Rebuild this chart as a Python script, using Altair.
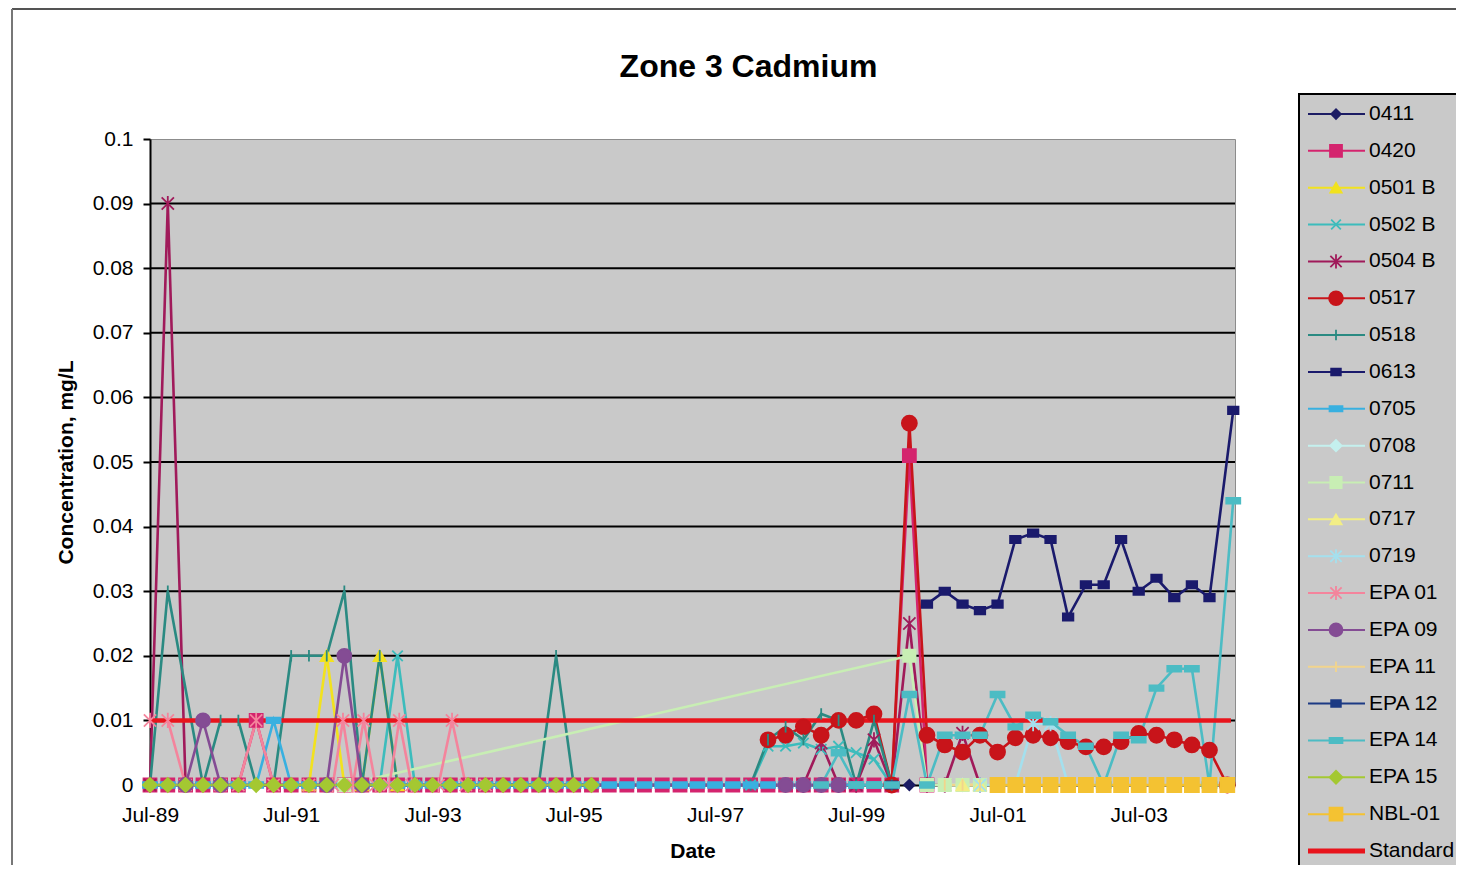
import altair as alt
import pandas as pd

FONT = "Liberation Sans"

# ---------------- data ----------------
sample_dates = [
    "1989-07-01", "1989-10-01", "1990-01-01", "1990-04-01", "1990-07-01", "1990-10-01",
    "1991-01-01", "1991-04-01", "1991-07-01", "1991-10-01", "1992-01-01", "1992-04-01",
    "1992-07-01", "1992-10-01", "1993-01-01", "1993-04-01", "1993-07-01", "1993-10-01",
    "1994-01-01", "1994-04-01", "1994-07-01", "1994-10-01", "1995-01-01", "1995-04-01",
    "1995-07-01", "1995-10-01", "1996-01-01", "1996-04-01", "1996-07-01", "1996-10-01",
    "1997-01-01", "1997-04-01", "1997-07-01", "1997-10-01", "1998-01-01", "1998-04-01",
    "1998-07-01", "1998-10-01", "1999-01-01", "1999-04-01", "1999-07-01", "1999-10-01",
    "2000-01-01", "2000-04-01", "2000-07-01", "2000-10-01", "2001-01-01", "2001-04-01",
    "2001-07-01", "2001-10-01", "2002-01-01", "2002-04-01", "2002-07-01", "2002-10-01",
    "2003-01-01", "2003-04-01", "2003-07-01", "2003-10-01", "2004-01-01", "2004-04-01",
    "2004-07-01", "2004-10-01",
]


def pick(idx):
    return [sample_dates[i] for i in idx]


dates_0411 = pick([43])
vals_0411 = [0.0]

dates_0420 = sample_dates[0:45]
vals_0420 = [0, 0, 0, 0, 0, 0, 0.01, 0, 0, 0,
             0, 0, 0, 0, 0, 0, 0, 0, 0, 0,
             0, 0, 0, 0, 0, 0, 0, 0, 0, 0,
             0, 0, 0, 0, 0, 0, 0, 0, 0, 0,
             0, 0, 0, 0.051, 0]

dates_0501b = sample_dates[9:15]
vals_0501b = [0, 0.02, 0, 0, 0.02, 0]

dates_0502b = pick([13, 14, 15, 34, 35, 36, 37, 38, 39, 40, 41, 42])
vals_0502b = [0, 0.02, 0, 0, 0.006, 0.006, 0.0065, 0.0055, 0.006, 0.005, 0.004, 0]

dates_0504b = pick([0, 1, 2, 37, 38, 39, 40, 41, 42, 43, 44, 45, 46, 47])
vals_0504b = [0, 0.09, 0, 0, 0.0065, 0, 0, 0.007, 0, 0.025, 0, 0, 0.008, 0]

dates_0517 = sample_dates[35:62]
vals_0517 = [0.007, 0.0077, 0.009, 0.0077, 0.010, 0.010, 0.011, 0, 0.056,
             0.0077, 0.0062, 0.0051, 0.0077, 0.0051, 0.0073, 0.0077, 0.0073, 0.0067,
             0.0059, 0.0059, 0.0067, 0.008, 0.0077, 0.007, 0.0062, 0.0054, 0]

dates_0518 = pick([0, 1, 3, 4, 5, 6, 7, 8, 9, 10, 11, 12, 13, 14, 15,
                   22, 23, 24, 34, 35, 36, 37, 38, 39, 40, 41, 42])
vals_0518 = [0, 0.03, 0, 0.01, 0.01, 0, 0, 0.02, 0.02, 0.02, 0.03, 0, 0.02, 0, 0,
             0, 0.02, 0, 0, 0.007, 0.009, 0.007, 0.011, 0.010, 0, 0.010, 0]

dates_0613 = sample_dates[44:61] + ["2004-11-01"]
vals_0613 = [0.028, 0.030, 0.028, 0.027, 0.028, 0.038, 0.039, 0.038, 0.026,
             0.031, 0.031, 0.038, 0.030, 0.032, 0.029, 0.031, 0.029, 0.058]

dates_0705 = sample_dates[0:43]
vals_0705 = [0, 0, 0, 0, 0, 0, 0, 0.01, 0, 0,
             0, 0, 0, 0, 0, 0, 0, 0, 0, 0,
             0, 0, 0, 0, 0, 0, 0, 0, 0, 0,
             0, 0, 0, 0, 0, 0, 0, 0, 0, 0,
             0, 0, 0]

dates_0708 = pick([45, 46])
vals_0708 = [0, 0]

dates_0711 = pick([11, 43, 44, 45, 46, 47])
vals_0711 = [0, 0.02, 0, 0, 0, 0]

dates_0717 = pick([46, 47])
vals_0717 = [0, 0]

dates_0719 = pick([47, 48, 49, 50, 51, 52])
vals_0719 = [0, 0, 0, 0.0095, 0.0095, 0]

dates_epa01 = ["1989-07-01", "1989-10-01", "1990-01-01", "1990-07-01", "1990-10-01",
               "1991-01-01", "1991-04-01", "1991-10-01", "1992-02-01", "1992-03-25",
               "1992-05-15", "1992-07-10", "1992-09-10", "1992-11-20", "1993-01-10",
               "1993-03-15", "1993-08-01", "1993-10-10", "1993-12-20", "1994-04-01"]
vals_epa01 = [0.01, 0.01, 0, 0, 0, 0.01, 0, 0, 0, 0.01,
              0, 0.01, 0, 0, 0.01, 0, 0, 0.01, 0, 0]

dates_epa09 = pick([2, 3, 4, 10, 11, 12, 36, 37, 38, 39])
vals_epa09 = [0, 0.01, 0, 0, 0.02, 0, 0, 0, 0, 0]

dates_epa11 = pick([45, 46, 47])
vals_epa11 = [0, 0, 0]

dates_epa12 = pick([42])
vals_epa12 = [0]

dates_epa14 = sample_dates[38:61] + ["2004-11-01"]
vals_epa14 = [0, 0.005, 0, 0, 0, 0.014, 0, 0.0077, 0.0077, 0.0077, 0.014, 0.009,
              0.0108, 0.0098, 0.0077, 0.006, 0, 0.0077, 0.007, 0.015, 0.018, 0.018,
              0, 0.044]

dates_epa15 = sample_dates[0:26]
vals_epa15 = [0, 0, 0, 0, 0, 0, 0, 0, 0, 0, 0, 0, 0,
              0, 0, 0, 0, 0, 0, 0, 0, 0, 0, 0, 0, 0]

dates_nbl01 = sample_dates[48:62]
vals_nbl01 = [0, 0, 0, 0, 0, 0, 0, 0, 0, 0, 0, 0, 0, 0]

dates_standard = ["1989-07-01", "2004-10-20"]
vals_standard = [0.01, 0.01]

series_names = ["0411", "0420", "0501 B", "0502 B", "0504 B", "0517", "0518", "0613",
                "0705", "0708", "0711", "0717", "0719", "EPA 01", "EPA 09", "EPA 11",
                "EPA 12", "EPA 14", "EPA 15", "NBL-01", "Standard"]

readings = [
    ("0411", dates_0411, vals_0411), ("0420", dates_0420, vals_0420),
    ("0501 B", dates_0501b, vals_0501b), ("0502 B", dates_0502b, vals_0502b),
    ("0504 B", dates_0504b, vals_0504b), ("0517", dates_0517, vals_0517),
    ("0518", dates_0518, vals_0518), ("0613", dates_0613, vals_0613),
    ("0705", dates_0705, vals_0705), ("0708", dates_0708, vals_0708),
    ("0711", dates_0711, vals_0711), ("0717", dates_0717, vals_0717),
    ("0719", dates_0719, vals_0719), ("EPA 01", dates_epa01, vals_epa01),
    ("EPA 09", dates_epa09, vals_epa09), ("EPA 11", dates_epa11, vals_epa11),
    ("EPA 12", dates_epa12, vals_epa12), ("EPA 14", dates_epa14, vals_epa14),
    ("EPA 15", dates_epa15, vals_epa15), ("NBL-01", dates_nbl01, vals_nbl01),
]

y_ticks = [0, 0.01, 0.02, 0.03, 0.04, 0.05, 0.06, 0.07, 0.08, 0.09, 0.1]
grid_levels = [0.01, 0.02, 0.03, 0.04, 0.05, 0.06, 0.07, 0.08, 0.09]
x_tick_years = [1989, 1991, 1993, 1995, 1997, 1999, 2001, 2003]

# ---------------- styles ----------------
X_PATH = "M-1,-1L1,1M-1,1L1,-1"
STAR_PATH = "M-1,-1L1,1M-1,1L1,-1M0,-1.25L0,1.25"
BAR_PATH = "M0,-1L0,1"
DASH_PATH = "M-1,-0.4L1,-0.4L1,0.4L-1,0.4Z"
BLOCK_PATH = "M-1,-0.7L1,-0.7L1,0.7L-1,0.7Z"

style = {
    "0411": ("#1c1c64", "diamond", 110),
    "0420": ("#d4246e", "square", 169),
    "0501 B": ("#f2e21e", "triangle-up", 150),
    "0502 B": ("#3cbcbc", X_PATH, 110),
    "0504 B": ("#a01a5a", STAR_PATH, 150),
    "0517": ("#c8141a", "circle", 225),
    "0518": ("#2a8a82", BAR_PATH, 130),
    "0613": ("#1a1a6c", BLOCK_PATH, 110),
    "0705": ("#38b0e0", DASH_PATH, 196),
    "0708": ("#c4f0ee", "diamond", 150),
    "0711": ("#c8eeb4", "square", 150),
    "0717": ("#f2ee86", "triangle-up", 150),
    "0719": ("#a4e0ee", STAR_PATH, 150),
    "EPA 01": ("#f4849c", STAR_PATH, 150),
    "EPA 09": ("#844c94", "circle", 196),
    "EPA 11": ("#f2d48c", BAR_PATH, 130),
    "EPA 12": ("#1c3a84", BLOCK_PATH, 110),
    "EPA 14": ("#4cbcc4", DASH_PATH, 196),
    "EPA 15": ("#a4c832", "diamond", 196),
    "NBL-01": ("#f4c232", "square", 196),
    "Standard": ("#e8141c", "circle", 0),
}

rows = []
for name, ds, vs in readings:
    col, shp, sz = style[name]
    for d, v in zip(ds, vs):
        rows.append({"series": name, "date": d, "value": v,
                     "color": col, "shape": shp, "size": sz})
df = pd.DataFrame(rows)

std_df = pd.DataFrame({"date": dates_standard, "value": vals_standard})
grid_df = pd.DataFrame({"value": grid_levels})

leg_df = pd.DataFrame({
    "name": series_names,
    "color": [style[n][0] for n in series_names],
    "shape": [style[n][1] for n in series_names],
    "size": [style[n][2] * 0.85 for n in series_names],
    "lw": [5 if n == "Standard" else 2 for n in series_names],
})

# ---------------- encodings ----------------
x_enc = alt.X(
    "date:T",
    scale=alt.Scale(type="utc", domain=[alt.DateTime(year=1989, month=7, date=1, utc=True),
                                        alt.DateTime(year=2004, month=11, date=10, utc=True)]),
    axis=alt.Axis(values=[alt.DateTime(year=y, month=7, date=1, utc=True) for y in x_tick_years],
                  format="%b-%y", title="Date", tickSize=5, labelPadding=14,
                  titlePadding=15, grid=False, labelFlush=False, labelOverlap=False),
)
y_enc = alt.Y(
    "value:Q",
    scale=alt.Scale(domain=[0, 0.1], nice=False),
    axis=alt.Axis(values=y_ticks, format="~g", title="Concentration, mg/L",
                  tickSize=7, labelPadding=10, titlePadding=16, grid=False,
                  labelFlush=False),
)

grid = alt.Chart(grid_df).mark_rule(color="black", strokeWidth=2).encode(y=y_enc)

lines = alt.Chart(df).mark_line(strokeWidth=2.6).encode(
    x=x_enc, y=y_enc, detail="series:N",
    stroke=alt.Stroke("color:N", scale=None),
)

standard = alt.Chart(std_df).mark_line(strokeWidth=4.5, color="#e8141c").encode(x=x_enc, y=y_enc)

points = alt.Chart(df).mark_point(opacity=1, fillOpacity=1, strokeWidth=1.8).encode(
    x=x_enc, y=y_enc,
    shape=alt.Shape("shape:N", scale=None),
    fill=alt.Fill("color:N", scale=None),
    stroke=alt.Stroke("color:N", scale=None),
    size=alt.Size("size:Q", scale=None),
)

main = alt.layer(grid, lines, standard, points)

leg_y = alt.Y("name:N", scale=alt.Scale(domain=series_names, range=[-43.4, 730.4],
                                        paddingOuter=0, padding=0),
              axis=None)

# scanned page frame (top and left edge lines)
frame_top = alt.Chart(leg_df).mark_rule(color="#555555", strokeWidth=1.5).encode(
    x=alt.value(-138), x2=alt.value(1320), y=alt.value(-130)
)
frame_left = alt.Chart(leg_df).mark_rule(color="#777777", strokeWidth=1.5).encode(
    x=alt.value(-138), y=alt.value(-130), y2=alt.value(740)
)

box = alt.Chart(leg_df).mark_rect(fill="#c9c9c9", stroke="black", strokeWidth=2).encode(
    x=alt.value(1149), x2=alt.value(1340), y=alt.value(-45), y2=alt.value(760)
)
leg_lines = alt.Chart(leg_df).mark_rule().encode(
    x=alt.value(1158), x2=alt.value(1215), y=leg_y,
    stroke=alt.Stroke("color:N", scale=None),
    strokeWidth=alt.StrokeWidth("lw:Q", scale=None),
)
leg_points = alt.Chart(leg_df).transform_filter("datum.name != 'Standard'").mark_point(
    opacity=1, fillOpacity=1, strokeWidth=1.8).encode(
    x=alt.value(1186), y=leg_y,
    shape=alt.Shape("shape:N", scale=None),
    fill=alt.Fill("color:N", scale=None),
    stroke=alt.Stroke("color:N", scale=None),
    size=alt.Size("size:Q", scale=None),
)
leg_text = alt.Chart(leg_df).mark_text(align="left", baseline="middle", fontSize=21,
                                       font=FONT, color="black").encode(
    x=alt.value(1219), y=leg_y, text="name:N"
)
legend = alt.layer(frame_top, frame_left, box, leg_lines, leg_points, leg_text)

chart = alt.layer(main, legend).resolve_scale(y="independent").properties(
    width=1085, height=646,
    autosize=alt.AutoSizeParams(type="none"),
    padding={"left": 142, "top": 131, "right": 221, "bottom": 80},
    title=alt.TitleParams("Zone 3 Cadmium", fontSize=32, font=FONT, fontWeight="bold",
                          anchor="middle", frame="group", dx=56, offset=-76, color="black"),
    background="white",
).configure_view(
    fill="#c9c9c9", stroke="#8c8c8c", strokeWidth=1
).configure_axis(
    labelFont=FONT, titleFont=FONT, labelFontSize=21, titleFontSize=21,
    titleFontWeight="bold", labelColor="black", titleColor="black",
    domainColor="black", domainWidth=2, tickColor="black", tickWidth=2,
)

chart.save("out.html", embed_options={"renderer": "svg", "actions": False})
